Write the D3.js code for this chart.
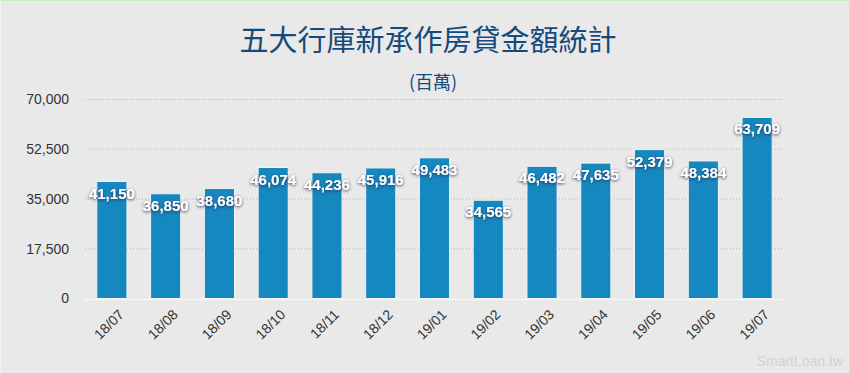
<!DOCTYPE html>
<html>
<head>
<meta charset="utf-8">
<script src="https://cdn.jsdelivr.net/npm/d3@7"></script>
<style>
  html, body { margin: 0; padding: 0; background: #e9e9e9; }
  svg { display: block; }
  .val { font: bold 15px "Liberation Sans", Arial, sans-serif; fill: #fff; }
</style>
</head>
<body>
<svg width="850" height="373"></svg>
<script>
var months = ['18/07', '18/08', '18/09', '18/10', '18/11', '18/12', '19/01',
  '19/02', '19/03', '19/04', '19/05', '19/06', '19/07'];
var amounts = [41150, 36850, 38680, 46074, 44236, 45916, 49483,
  34565, 46482, 47635, 52379, 48384, 63709];
var yTicks = [0, 17500, 35000, 52500, 70000];

var svg = d3.select('svg'),
  width = +svg.attr('width'),
  height = +svg.attr('height');

var latin = '"Liberation Sans", Arial, sans-serif';
var cjk = '"Noto Sans CJK TC", "Noto Sans CJK SC", sans-serif';

svg.append('rect')
  .attr('width', width).attr('height', height)
  .attr('fill', '#e9e9e9');
// frame
svg.append('line').attr('x1', 0).attr('x2', width).attr('y1', 0.5).attr('y2', 0.5)
  .attr('stroke', '#c4ecb4');
svg.append('line').attr('x1', width - 0.5).attr('x2', width - 0.5).attr('y1', 0).attr('y2', height)
  .attr('stroke', '#c4ecb4');
svg.append('line').attr('x1', 0.5).attr('x2', 0.5).attr('y1', 0).attr('y2', height)
  .attr('stroke', '#f3f3f3');

var defs = svg.append('defs');
var f = defs.append('filter').attr('id', 'shadow')
  .attr('x', '-30%').attr('y', '-50%').attr('width', '160%').attr('height', '200%');
f.append('feDropShadow').attr('dx', 0).attr('dy', 1).attr('stdDeviation', 1.6)
  .attr('flood-color', '#2a2350').attr('flood-opacity', 0.9);

var x = d3.scaleBand().domain(months).range([85, 784]).paddingInner(0.44).paddingOuter(0.22);
var y = d3.scaleLinear().domain([0, 70000]).range([298.5, 99.5]);

// title
svg.append('text')
  .attr('x', 428).attr('y', 51)
  .attr('text-anchor', 'middle')
  .style('font-family', cjk).style('font-size', '29px')
  .attr('fill', '#154a7a')
  .text('五大行庫新承作房貸金額統計');
svg.append('text')
  .attr('x', 433).attr('y', 89)
  .attr('text-anchor', 'middle')
  .style('font-family', cjk).style('font-size', '18px')
  .attr('fill', '#154a7a')
  .text('(百萬)');

// grid
var grid = svg.append('g');
grid.selectAll('line')
  .data(yTicks.filter(function(d) { return d > 0; }))
  .enter()
  .append('line')
  .attr('x1', 85).attr('x2', 784)
  .attr('y1', function(d) { return y(d); })
  .attr('y2', function(d) { return y(d); })
  .attr('stroke', '#b4b4b4')
  .attr('stroke-dasharray', '1,2');

// y axis
var yAxis = svg.append('g')
  .attr('transform', 'translate(85,0)')
  .call(d3.axisLeft(y).tickValues(yTicks).tickSize(0).tickPadding(16).tickFormat(d3.format(',')));
yAxis.select('.domain').remove();
yAxis.selectAll('text')
  .style('font-family', latin).style('font-size', '14px')
  .attr('fill', '#333');

// bars
svg.append('g')
  .selectAll('rect')
  .data(amounts)
  .enter()
  .append('rect')
  .attr('x', function(d, i) { return x(months[i]); })
  .attr('y', function(d) { return y(d); })
  .attr('width', x.bandwidth())
  .attr('height', function(d) { return y(0) - y(d); })
  .attr('fill', '#1588bf')
  .attr('stroke', '#f2f2f2')
  .attr('stroke-width', 1);

// baseline
svg.append('line')
  .attr('x1', 85).attr('x2', 784)
  .attr('y1', y(0) + 1).attr('y2', y(0) + 1)
  .attr('stroke', '#f6f6f6').attr('stroke-width', 1.5);

// x axis
var xAxis = svg.append('g')
  .attr('transform', 'translate(0,' + (y(0) + 1) + ')')
  .call(d3.axisBottom(x).tickSize(0).tickPadding(0));
xAxis.select('.domain').remove();
xAxis.selectAll('text')
  .style('font-family', latin).style('font-size', '14px')
  .attr('fill', '#333')
  .attr('text-anchor', 'end')
  .attr('dy', 0)
  .attr('transform', 'translate(13,16) rotate(-45)');

// value labels
svg.append('g')
  .selectAll('text')
  .data(amounts)
  .enter()
  .append('text')
  .attr('class', 'val')
  .attr('x', function(d, i) { return x(months[i]) + x.bandwidth() / 2; })
  .attr('y', function(d) { return y(d) + 17; })
  .attr('text-anchor', 'middle')
  .attr('filter', 'url(#shadow)')
  .text(d3.format(','));

// watermark
svg.append('text')
  .attr('x', 843).attr('y', 366)
  .attr('text-anchor', 'end')
  .style('font-family', latin).style('font-size', '14px')
  .attr('fill', '#d2d2d2')
  .text('SmartLoan.tw');
</script>
</body>
</html>
